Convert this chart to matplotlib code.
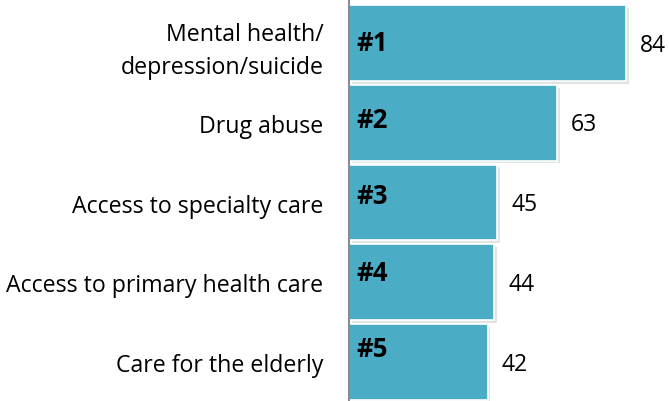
import matplotlib.pyplot as plt
import matplotlib.patheffects as pe

# Data
categories = ["Mental health/\ndepression/suicide", "Drug abuse", "Access to specialty care",
              "Access to primary health care", "Care for the elderly"]
values = [84, 63, 45, 44, 42]
ranks = ["#1", "#2", "#3", "#4", "#5"]

plt.rcParams['font.family'] = ['Open Sans', 'DejaVu Sans']

fig = plt.figure(figsize=(6.69, 4.02), dpi=100)
ax = fig.add_axes([349 / 669, 0, 320 / 669, 1])

pos = list(range(len(values)))
bars = ax.barh(pos, values, height=0.95, color='#4BACC6', edgecolor='white', linewidth=1.2)
for b in bars:
    b.set_path_effects([pe.SimplePatchShadow(offset=(2, -2), alpha=0.2, shadow_rgbFace='#777777'),
                        pe.Normal()])

ax.set_xlim(0, 84 * 320 / 277)
ax.set_ylim(4.489, -0.552)

for i, (p, v, r) in enumerate(zip(pos, values, ranks)):
    ax.text(2.3, p - 0.005 - 0.04 * i, r, ha='left', va='center', fontsize=18.5, fontweight='bold', color='black')
    ax.text(v + 4.3, p + 0.02, str(v), ha='left', va='center', fontsize=16.5, color='black')

ax.set_yticks(pos)
ax.set_yticklabels(categories, fontsize=16.7, linespacing=1.5)
ax.tick_params(axis='y', length=0, pad=18.5)
ax.set_xticks([])

for s in ['top', 'right', 'bottom']:
    ax.spines[s].set_visible(False)
ax.spines['left'].set_color('#8c8c8c')
ax.spines['left'].set_linewidth(1.5)

fig.savefig("out.png", dpi=100)
